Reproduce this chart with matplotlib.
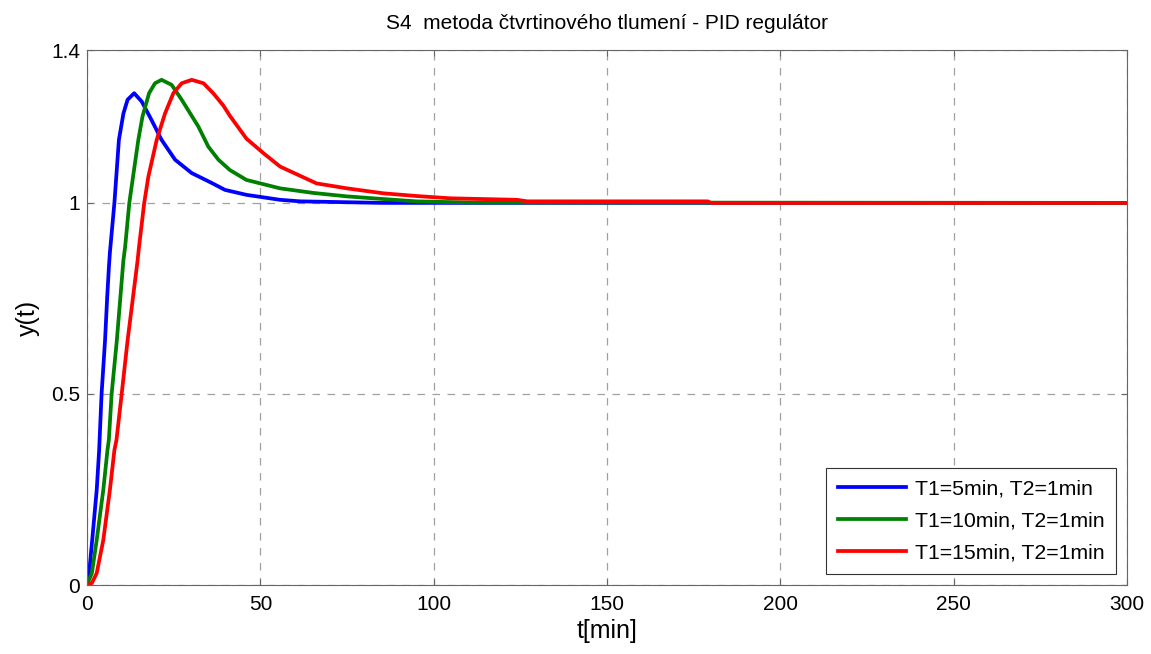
import matplotlib
matplotlib.use("Agg")
import matplotlib.pyplot as plt

# Data
t_blue = [0, 0.6, 1.5, 2.8, 3.5, 4.2, 5.2, 5.8, 6.3, 6.6, 7.9, 9.2, 10.5, 11.7, 13.6, 15.8, 18.6, 21.5, 25.4, 30.2, 36, 39.8, 46, 55.7, 61.5, 85, 300]
y_blue = [0, 0.031, 0.118, 0.249, 0.353, 0.5, 0.64, 0.75, 0.83, 0.87, 1.0, 1.165, 1.234, 1.27, 1.287, 1.265, 1.217, 1.165, 1.113, 1.078, 1.052, 1.034, 1.021, 1.008, 1.004, 1.0, 1.0]

t_green = [0, 0.2, 1.4, 2.8, 4.7, 5.9, 6.3, 7.1, 8.6, 10.5, 11, 12.2, 14.8, 16, 17.9, 19.6, 21.5, 24.4, 27.3, 32.1, 35, 37.9, 41.2, 46, 55.7, 65.3, 75, 85.5, 95, 110, 300]
y_green = [0, 0.005, 0.031, 0.118, 0.249, 0.353, 0.38, 0.5, 0.64, 0.85, 0.885, 1.0, 1.165, 1.226, 1.287, 1.313, 1.322, 1.309, 1.27, 1.2, 1.147, 1.113, 1.086, 1.06, 1.038, 1.026, 1.017, 1.01, 1.004, 1.001, 1.0]

t_red = [0, 1.4, 2.8, 4.7, 6.6, 7.9, 8.5, 10, 11.7, 14.6, 15, 16.5, 17.7, 20.1, 22.5, 24.9, 27.3, 30.2, 33.6, 36.4, 39.3, 41.2, 46, 50.9, 55.7, 66.2, 75, 85.5, 95, 104.7, 124, 127, 179, 180, 300]
y_red = [0, 0.005, 0.031, 0.118, 0.249, 0.353, 0.38, 0.5, 0.64, 0.85, 0.885, 1.0, 1.069, 1.165, 1.234, 1.287, 1.313, 1.322, 1.313, 1.287, 1.255, 1.228, 1.168, 1.13, 1.095, 1.051, 1.038, 1.025, 1.018, 1.012, 1.008, 1.004, 1.004, 1.0, 1.0]

labels = ["T1=5min, T2=1min", "T1=10min, T2=1min", "T1=15min, T2=1min"]
colors = ["#0000ff", "#008000", "#ff0000"]
x_ticks = [0, 50, 100, 150, 200, 250, 300]
y_ticks = [0, 0.5, 1, 1.4]
y_tick_labels = ["0", "0.5", "1", "1.4"]

plt.rcParams['font.family'] = ['Liberation Sans', 'DejaVu Sans']

fig = plt.figure(figsize=(11.51, 6.54), dpi=100)
ax = fig.add_axes([0.0756, 0.1055, 0.9036, 0.818])

for t, y, lab, c in zip([t_blue, t_green, t_red], [y_blue, y_green, y_red], labels, colors):
    ax.plot(t, y, color=c, lw=2.7, label=lab, solid_joinstyle='round')

ax.set_xlim(0, 300)
ax.set_ylim(0, 1.4)
ax.set_xticks(x_ticks)
ax.set_yticks(y_ticks)
ax.set_yticklabels(y_tick_labels)
ax.tick_params(direction='in', top=True, right=True, labelsize=15, length=4, color='#666666')
ax.tick_params(axis='x', pad=7)
ax.tick_params(axis='y', pad=5)
ax.grid(True, linestyle=(0, (6, 6)), color='#a0a0a0', linewidth=0.9)
for s in ax.spines.values():
    s.set_color('#666666')

ax.set_title("S4  metoda čtvrtinového tlumení - PID regulátor", fontsize=15, pad=15)
ax.set_xlabel("t[min]", fontsize=18, labelpad=4)
ax.set_ylabel("y(t)", fontsize=18, labelpad=8)

leg = ax.legend(loc='lower right', fontsize=15.3, fancybox=False, edgecolor='#333333',
                framealpha=1, handlelength=3.2, handletextpad=0.45, borderaxespad=0.5,
                labelspacing=0.62, borderpad=0.55)
leg.get_frame().set_linewidth(0.8)

fig.savefig("out.png", dpi=100)
